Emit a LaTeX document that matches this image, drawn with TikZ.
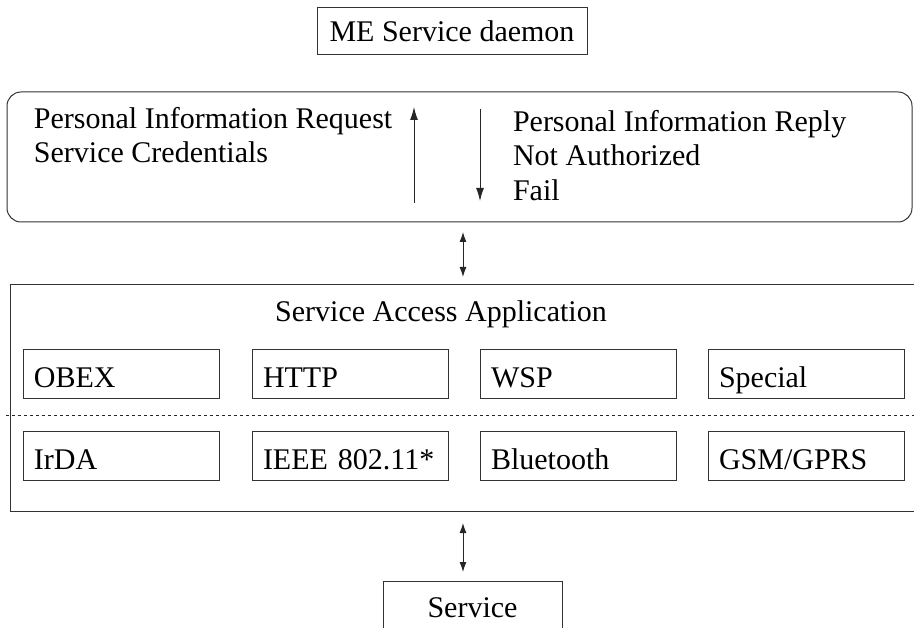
\documentclass[tikz,border=0pt]{standalone}
\usepackage{fontspec}
\setmainfont{Liberation Serif}
\usetikzlibrary{arrows.meta}
\begin{document}
\begin{tikzpicture}[x=1pt,y=-1pt,
  every node/.style={font=\fontsize{30}{34}\selectfont, inner sep=0pt, outer sep=0pt},
  frame/.style={draw=black!80, line width=1pt},
  proto/.style={frame, anchor=north west, minimum width=196pt, minimum height=49pt,
    text width=174pt, align=left, text height=27pt, text depth=0pt},
  txt/.style={anchor=base west},
  arr/.style={draw=black!85, line width=1pt, -{Latex[length=13pt,width=8pt]}},
  dbl/.style={draw=black!85, line width=1pt, {Latex[length=10pt,width=7pt]}-{Latex[length=10pt,width=7pt]}}]
\useasboundingbox (0,0) rectangle (914,628);
\clip (0,0) rectangle (914,628);

% top daemon box
\node[frame, minimum width=270pt, minimum height=47pt, text height=21pt, text depth=0pt] (daemon) at (452,31.5) {ME Service daemon};

% message panel
\node[frame, rounded corners=14pt, minimum width=905pt, minimum height=130pt, anchor=north west] (panel) at (7,92) {};
\node[txt] (req) at (34,129) {Personal Information Request};
\node[txt] (cred) at (34,163) {Service Credentials};
\node[txt] (rep) at (513,132) {Personal Information Reply};
\node[txt] (nauth) at (513,166) {Not Authorized};
\node[txt] (fail) at (513,201) {Fail};
\coordinate (upS) at (414,203);
\coordinate (upN) at (414,107);
\coordinate (dnN) at (480,109);
\coordinate (dnS) at (480,201);
\draw[arr] (upS) -- (upN);
\draw[arr] (dnN) -- (dnS);

% application box
\node[frame, minimum width=925pt, minimum height=227pt, anchor=north west] (app) at (10,285) {};
\node[anchor=base] (apptitle) at (441,322) {Service Access Application};

\node[proto] (obex) at (23,350) {OBEX};
\node[proto] (http) at (252,350) {HTTP};
\node[proto] (wsp) at (480,350) {WSP};
\node[proto] (special) at (708,350) {Special};

\coordinate (dotL) at (6,415);
\coordinate (dotR) at (914,415);
\draw[black!85, line width=0.9pt, dash pattern=on 3pt off 3pt] (dotL) -- (dotR);

\node[proto] (irda) at (23,432) {IrDA};
\node[proto] (ieee) at (252,432) {IEEE 802.11*};
\node[proto] (bt) at (480,432) {Bluetooth};
\node[proto] (gsm) at (708,432) {GSM/GPRS};

% service box
\node[frame, anchor=north, minimum width=179pt, minimum height=70pt, text height=2pt, text depth=0pt] (service) at (472.5,581) {Service};

% connectors
\coordinate (a1) at (463,232);
\coordinate (a2) at (463,277);
\coordinate (b1) at (463,523);
\coordinate (b2) at (463,572);
\draw[dbl] (a1) -- (a2);
\draw[dbl] (b1) -- (b2);
\end{tikzpicture}
\end{document}
